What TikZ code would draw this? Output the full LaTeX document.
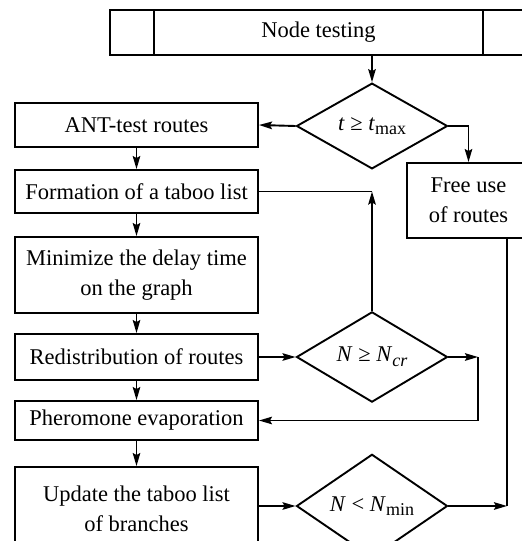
\documentclass[tikz,border=0pt]{standalone}
\usepackage{fontspec}
\setmainfont{Liberation Serif}
\usetikzlibrary{shapes.geometric,arrows.meta,calc}
\newcommand{\lowsub}[1]{\raisebox{-0.45ex}{\fontsize{18}{18}\selectfont #1}}
\begin{document}
\begin{tikzpicture}[x=1pt,y=-1pt,
  font=\fontsize{22.5}{30}\selectfont,
  box/.style={draw,line width=1.9pt,rectangle,inner sep=0pt,align=center},
  dia/.style={draw,line width=1.9pt,diamond,inner sep=0pt,minimum width=151pt,minimum height=60pt},
  conn/.style={line width=1.9pt},
  arr/.style={conn,-{Stealth[length=13pt,width=7.5pt,inset=2pt]}}]
\useasboundingbox (0,0) rectangle (522,541);
\clip (0,0) rectangle (522,541);
% top box
\node[box,minimum width=417pt,minimum height=45pt] (top) at (318.5,32.5) {Node testing};
\draw[conn] ($(top.north west)+(45,0)$) -- ($(top.south west)+(45,0)$);
\draw[conn] ($(top.north east)+(-45,0)$) -- ($(top.south east)+(-45,0)$);
% left column
\node[box,minimum width=243pt,minimum height=44pt] (ant) at (136.5,125) {ANT-test routes};
\node[box,minimum width=243pt,minimum height=43pt] (form) at (136.5,191.5) {Formation of a taboo list};
\node[box,minimum width=243pt,minimum height=76pt] (minb) at (136.5,275) {Minimize the delay time\\on the graph};
\node[box,minimum width=243pt,minimum height=46pt] (redis) at (136.5,357) {Redistribution of routes};
\node[box,minimum width=243pt,minimum height=39pt] (pher) at (136.5,420.5) {Pheromone evaporation};
\node[box,minimum width=243pt,minimum height=84pt] (upd) at (136.5,509) {Update the taboo list\\of branches};
% right box
\node[box,minimum width=123pt,minimum height=75pt] (free) at (468.5,200.5) {Free use\\of routes};
% diamonds
\node[dia] (d1) at (372,126) {\textit{t} ≥ \textit{t}\lowsub{max}};
\node[dia] (d2) at (372,357) {\textit{N} ≥ \textit{N}\lowsub{\textit{cr}}};
\node[dia] (d3) at (372,506) {\textit{N} < \textit{N}\lowsub{min}};
\coordinate (j1) at (478,357);
\coordinate (j2) at (507,506);
% connectors
\draw[arr] (d1.north |- top.south) -- (d1.north);
\draw[arr] (d1.west) -- (ant.east);
\draw[arr] (d1.east) -| (free.north);
\draw[arr] (ant) -- (form);
\draw[arr] (form) -- (minb);
\draw[arr] (minb) -- (redis);
\draw[arr] (redis) -- (pher);
\draw[arr] (pher) -- (upd);
\draw[arr] (redis) -- (d2);
\draw[arr] (d2.north) -- (d2.north |- form.east);
\draw[conn] (d2.north |- form.east) -- (form.east);
\draw[arr] (d2.east) -- (j1);
\draw[arr] (j1) |- (pher.east);
\draw[arr] (upd.east |- d3.west) -- (d3.west);
\draw[arr] (d3.east) -- (j2);
\draw[conn] (free.south -| j2) -- (j2);
\end{tikzpicture}
\end{document}
